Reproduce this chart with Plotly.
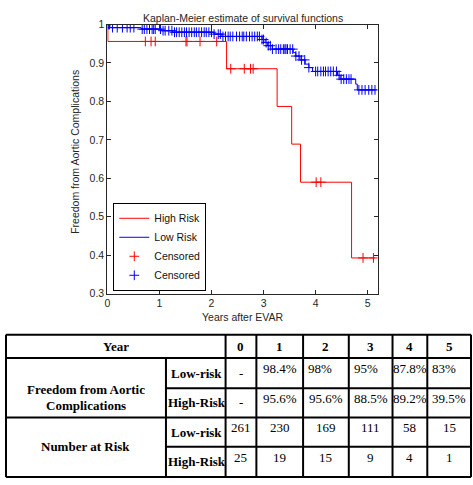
import numpy as np
import plotly.graph_objects as go

# ---------------- data ----------------
# Kaplan-Meier step points (time in years, survival after the step)
high_t = [0.0, 0.01, 2.29, 3.26, 3.54, 3.71, 4.69]
high_s = [1.0, 0.956, 0.885, 0.787, 0.689, 0.590, 0.393]
high_end = 5.14
high_censor = [0.73, 0.84, 0.92, 1.51, 1.53, 1.78, 2.10, 2.37, 2.63, 2.75, 2.80,
               4.01, 4.10, 4.91, 5.11]

low_t = [0.0, 0.05, 0.65, 1.05, 1.25, 2.05, 2.20, 2.97, 3.03, 3.08, 3.17,
         3.57, 3.62, 3.70, 3.80, 3.87, 3.94, 4.42, 4.47, 4.77, 4.80]
low_s = [1.0, 0.992, 0.988, 0.984, 0.980, 0.975, 0.969, 0.961, 0.953, 0.945, 0.936,
         0.927, 0.918, 0.908, 0.897, 0.888, 0.878, 0.868, 0.858, 0.845, 0.830]
low_end = 5.14
low_censor = [0.02, 0.04, 0.10, 0.19, 0.29, 0.38, 0.44, 0.51, 0.67, 0.71, 0.76, 0.81,
              0.86, 0.89, 0.92, 1.02, 1.07, 1.11, 1.18, 1.24, 1.29, 1.33, 1.38, 1.43,
              1.48, 1.52, 1.57, 1.62, 1.67, 1.71, 1.76, 1.81, 1.86, 1.90, 1.95, 2.00,
              2.05, 2.13, 2.17, 2.22, 2.27, 2.32, 2.36, 2.41, 2.48, 2.54, 2.59, 2.62,
              2.67, 2.73, 2.78, 2.83, 2.88, 2.92, 2.97, 3.00, 3.05, 3.09, 3.13, 3.17,
              3.24, 3.29, 3.33, 3.38, 3.41, 3.43, 3.46, 3.51, 3.56, 3.62, 3.68, 3.73,
              3.79, 3.87, 4.00, 4.04, 4.10, 4.15, 4.19, 4.24, 4.29, 4.34, 4.40, 4.45,
              4.49, 4.54, 4.59, 4.64, 4.68, 4.83, 4.89, 4.95, 5.02, 5.08, 5.14]

x_ticks = [0, 1, 2, 3, 4, 5]
y_ticks = [0.3, 0.4, 0.5, 0.6, 0.7, 0.8, 0.9, 1.0]
y_ticktext = ["0.3", "0.4", "0.5", "0.6", "0.7", "0.8", "0.9", "1"]

# table
table_years = ["0", "1", "2", "3", "4", "5"]
freedom_low = ["-", "98.4%", "98%", "95%", "87.8%", "83%"]
freedom_high = ["-", "95.6%", "95.6%", "88.5%", "89.2%", "39.5%"]
risk_low = ["261", "230", "169", "111", "58", "15"]
risk_high = ["25", "19", "15", "9", "4", "1"]

# ---------------- helpers ----------------
W, H = 473, 485
def px(x):
    return x / W
def py(y):
    return 1 - y / H

def km_line(t, s, t_end):
    return list(t) + [t_end], list(s) + [s[-1]]

def km_at(t, s, times):
    idx = np.searchsorted(np.array(t), np.array(times), side="right") - 1
    return [s[i] for i in idx]

RED = "#ff0000"
BLUE = "#0000ff"
SANS = "Liberation Sans, Arial, sans-serif"
SERIF = "Liberation Serif, Times New Roman, serif"
AX_COL = "#262626"

fig = go.Figure()
hx, hy = km_line(high_t, high_s, high_end)
lx, ly = km_line(low_t, low_s, low_end)
fig.add_trace(go.Scatter(x=hx, y=hy, mode="lines", line=dict(color=RED, width=1, shape="hv"),
                         name="High Risk"))
fig.add_trace(go.Scatter(x=lx, y=ly, mode="lines", line=dict(color=BLUE, width=1, shape="hv"),
                         name="Low Risk"))
fig.add_trace(go.Scatter(x=high_censor, y=km_at(high_t, high_s, high_censor), mode="markers",
                         marker=dict(symbol="cross-thin", size=7, line=dict(color=RED, width=1)),
                         name="Censored"))
fig.add_trace(go.Scatter(x=low_censor, y=km_at(low_t, low_s, low_censor), mode="markers",
                         marker=dict(symbol="cross-thin", size=7, line=dict(color=BLUE, width=1)),
                         name="Censored"))

# plot area in pixels
L, R, T, B = 105, 377, 19, 295

fig.update_layout(
    width=W, height=H, margin=dict(l=0, r=0, t=0, b=0),
    paper_bgcolor="white", plot_bgcolor="white",
    font=dict(family=SANS, size=10.5, color=AX_COL),
    showlegend=True,
    legend=dict(x=px(111), y=py(292), xanchor="left", yanchor="bottom",
                bordercolor="black", borderwidth=1, bgcolor="white",
                font=dict(family=SANS, size=10.5, color="#111"),
                traceorder="normal", tracegroupgap=0),
    xaxis=dict(domain=[px(L), px(R)], range=[0, 5.19], tickvals=x_ticks,
               ticks="inside", ticklen=4, tickcolor=AX_COL, showline=True, linecolor=AX_COL,
               linewidth=1, mirror="ticks", showgrid=False, zeroline=False,
               tickfont=dict(size=10.5, color=AX_COL)),
    yaxis=dict(domain=[py(B), py(T)], range=[0.3, 1.0], tickvals=y_ticks, ticktext=y_ticktext,
               ticks="inside", ticklen=4, tickcolor=AX_COL, showline=True, linecolor=AX_COL,
               linewidth=1, mirror="ticks", showgrid=False, zeroline=False,
               tickfont=dict(size=10.5, color=AX_COL)),
)

ann = []
ann.append(dict(text="Kaplan-Meier estimate of survival functions", x=px(242), y=py(12),
                xref="paper", yref="paper", showarrow=False, xanchor="center", yanchor="middle",
                font=dict(family=SANS, size=10.5, color=AX_COL)))
ann.append(dict(text="Years after EVAR", x=px(242), y=py(319), xref="paper", yref="paper",
                showarrow=False, xanchor="center", yanchor="middle",
                font=dict(family=SANS, size=10.5, color=AX_COL)))
ann.append(dict(text="Freedom from Aortic Complications", x=px(73), y=py(150), xref="paper",
                yref="paper", showarrow=False, textangle=-90, xanchor="center", yanchor="middle",
                font=dict(family=SANS, size=10.5, color=AX_COL)))

# ---------------- table ----------------
shapes = []
def hline(y, x0, x1):
    shapes.append(dict(type="line", xref="paper", yref="paper", x0=px(x0), x1=px(x1),
                       y0=py(y), y1=py(y), line=dict(color="black", width=2)))
def vline(x, y0, y1):
    shapes.append(dict(type="line", xref="paper", yref="paper", x0=px(x), x1=px(x),
                       y0=py(y0), y1=py(y1), line=dict(color="black", width=2)))

TL, TR = 3, 471
row_y = [337, 361, 392, 422, 452, 483]
sub_x = 164
col_x = [224, 255, 302, 348, 392, 427, 471]

hline(row_y[0], TL, TR)
hline(row_y[1], TL, TR)
hline(row_y[2], sub_x, TR)
hline(row_y[3], TL, TR)
hline(row_y[4], sub_x, TR)
hline(row_y[5], TL, TR)
vline(TL, row_y[0], row_y[5])
vline(sub_x, row_y[1], row_y[5])
for cx in col_x:
    vline(cx, row_y[0], row_y[5])

def cell_text(text, x, y, xanchor="center", size=13, bold=True):
    ann.append(dict(text=text, x=px(x), y=py(y), xref="paper", yref="paper", showarrow=False,
                    xanchor=xanchor, yanchor="middle",
                    font=dict(family=SERIF, size=size, color="black",
                              weight="bold" if bold else "normal")))

cell_text("Year", (TL + col_x[0]) / 2, (row_y[0] + row_y[1]) / 2)
for i, yr in enumerate(table_years):
    cell_text(yr, (col_x[i] + col_x[i + 1]) / 2, (row_y[0] + row_y[1]) / 2)

cell_text("Freedom from Aortic", (TL + sub_x) / 2, 393)
cell_text("Complications", (TL + sub_x) / 2, 410)
cell_text("Number at Risk", (TL + sub_x) / 2, 452)
for r, lab in zip(range(4), ["Low-risk", "High-Risk", "Low-risk", "High-Risk"]):
    cell_text(lab, (sub_x + col_x[0]) / 2 + 1, (row_y[r + 1] + row_y[r + 2]) / 2)

rows = [freedom_low, freedom_high, risk_low, risk_high]
left_cells = {(0, 2), (0, 3), (0, 5)}
for r, vals in enumerate(rows):
    y_mid = (row_y[r + 1] + row_y[r + 2]) / 2
    for c, v in enumerate(vals):
        yy = y_mid if v == "-" else y_mid - 5
        if (r, c) in left_cells:
            cell_text(v, col_x[c] + 3, yy, xanchor="left", bold=False)
        else:
            cell_text(v, (col_x[c] + col_x[c + 1]) / 2, yy, bold=False)

fig.update_layout(annotations=ann, shapes=shapes)

fig.write_html("out.html", config={"displayModeBar": False},
               post_script="document.body.style.margin='0';")
